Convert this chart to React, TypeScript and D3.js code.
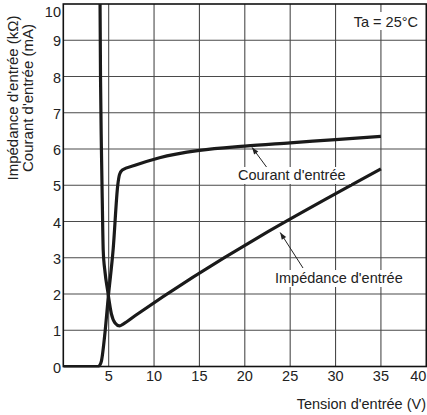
import React, { useEffect, useRef } from "react";
import * as d3 from "d3";

// Input voltage (V) vs. input current (mA)
const currentV = [0, 3.8, 4.0, 4.2, 4.6, 4.95, 5.5, 6.0, 6.2, 6.5, 7.9, 10.6, 15, 20, 25, 30, 35];
const currentMA = [0, 0, 0.03, 0.15, 0.95, 1.9, 3.25, 5.0, 5.3, 5.42, 5.55, 5.76, 5.96, 6.08, 6.17, 6.26, 6.35];

// Input voltage (V) vs. input impedance (kΩ)
const impedanceV = [4.05, 4.1, 4.2, 4.3, 4.4, 4.6, 4.88, 5.3, 5.7, 6.2, 6.6, 7.9, 35];
const impedanceK = [10, 8, 6, 4.5, 3.2, 2.6, 2.1, 1.45, 1.2, 1.12, 1.17, 1.4, 5.45];

const xTicks = [5, 10, 15, 20, 25, 30, 35, 40];
const yTicks = [0, 1, 2, 3, 4, 5, 6, 7, 8, 9, 10];

const FONT = "'Liberation Sans', Arial, Helvetica, sans-serif";

export default function App() {
  const ref = useRef<SVGSVGElement>(null);

  useEffect(() => {
    const svg = d3.select(ref.current);
    svg.selectAll("*").remove();

    const W = 427, H = 415;
    const left = 63.3, right = 426.3, top = 4, bottom = 366.5;

    const x = d3.scaleLinear().domain([0, 40]).range([left, right]);
    const y = d3.scaleLinear().domain([0, 10]).range([bottom, top]);

    svg.append("rect").attr("width", W).attr("height", H).attr("fill", "#fff");

    // grid
    const g = svg.append("g");
    g.selectAll(".vx").data(xTicks.filter(t => t < 40)).enter().append("line")
      .attr("x1", d => x(d)).attr("x2", d => x(d))
      .attr("y1", top).attr("y2", bottom)
      .attr("stroke", "#4a4a4a").attr("stroke-width", 1.1);
    g.selectAll(".hy").data(yTicks.filter(t => t > 0 && t < 10)).enter().append("line")
      .attr("x1", left).attr("x2", right)
      .attr("y1", d => y(d)).attr("y2", d => y(d))
      .attr("stroke", "#4a4a4a").attr("stroke-width", 1.1);

    // frame
    svg.append("rect")
      .attr("x", left).attr("y", top)
      .attr("width", right - left).attr("height", bottom - top)
      .attr("fill", "none").attr("stroke", "#111").attr("stroke-width", 1.6);

    // curves
    const line = d3.line<[number, number]>()
      .x(d => x(d[0])).y(d => y(d[1]))
      .curve(d3.curveMonotoneX);

    const curData: [number, number][] = currentV.map((v, i) => [v, currentMA[i]]);
    const impData: [number, number][] = impedanceV.map((v, i) => [v, impedanceK[i]]);

    const clip = svg.append("clipPath").attr("id", "plotclip");
    clip.append("rect").attr("x", left).attr("y", top - 1)
      .attr("width", right - left).attr("height", bottom - top + 2);

    const curves = svg.append("g").attr("clip-path", "url(#plotclip)");
    curves.append("path").attr("d", line(impData) || "")
      .attr("fill", "none").attr("stroke", "#1a1a1a").attr("stroke-width", 3.2)
      .attr("stroke-linejoin", "round");
    curves.append("path").attr("d", line(curData) || "")
      .attr("fill", "none").attr("stroke", "#1a1a1a").attr("stroke-width", 3.2)
      .attr("stroke-linejoin", "round");

    // tick labels
    svg.selectAll(".xl").data(xTicks).enter().append("text")
      .attr("x", d => (d === 40 ? right : x(d)))
      .attr("y", 381)
      .attr("text-anchor", d => (d === 40 ? "end" : "middle"))
      .attr("font-family", FONT).attr("font-size", 14.5).attr("fill", "#222")
      .text(d => d);
    svg.selectAll(".yl").data(yTicks).enter().append("text")
      .attr("x", 61)
      .attr("y", d => (d === 10 ? 16.5 : y(d) + 6))
      .attr("text-anchor", "end")
      .attr("font-family", FONT).attr("font-size", 14.5).attr("fill", "#222")
      .text(d => d);

    // axis titles
    svg.append("text")
      .attr("x", 426).attr("y", 409)
      .attr("text-anchor", "end")
      .attr("font-family", FONT).attr("font-size", 14.5).attr("fill", "#222")
      .text("Tension d'entrée (V)");

    const yt = svg.append("g").attr("transform", "translate(0,98) rotate(-90)");
    yt.append("text").attr("x", 0).attr("y", 18)
      .attr("text-anchor", "middle")
      .attr("font-family", FONT).attr("font-size", 15).attr("fill", "#222")
      .text("Impédance d'entrée (kΩ)");
    yt.append("text").attr("x", 0).attr("y", 33)
      .attr("text-anchor", "middle")
      .attr("font-family", FONT).attr("font-size", 15).attr("fill", "#222")
      .text("Courant d'entrée (mA)");

    // condition note
    svg.append("rect").attr("x", 348).attr("y", 12).attr("width", 72).attr("height", 18).attr("fill", "#fff");
    svg.append("text")
      .attr("x", 418).attr("y", 27)
      .attr("text-anchor", "end")
      .attr("font-family", FONT).attr("font-size", 14.5).attr("fill", "#222")
      .text("Ta = 25°C");

    // annotations with arrows
    const arrow = (x1: number, y1: number, x2: number, y2: number) => {
      svg.append("line").attr("x1", x1).attr("y1", y1).attr("x2", x2).attr("y2", y2)
        .attr("stroke", "#222").attr("stroke-width", 1);
      const ang = Math.atan2(y2 - y1, x2 - x1);
      const len = 7, half = 2.6;
      const bx = x2 - len * Math.cos(ang), by = y2 - len * Math.sin(ang);
      const px = -Math.sin(ang) * half, py = Math.cos(ang) * half;
      svg.append("path")
        .attr("d", `M${x2},${y2}L${bx + px},${by + py}L${bx - px},${by - py}Z`)
        .attr("fill", "#222");
    };

    const labelBg = (tx: number, ty: number, w: number) =>
      svg.append("rect").attr("x", tx - 2).attr("y", ty - 13).attr("width", w + 4).attr("height", 17).attr("fill", "#fff");

    labelBg(238, 180, 111);
    svg.append("text").attr("x", 238).attr("y", 180)
      .attr("font-family", FONT).attr("font-size", 14.5).attr("fill", "#222")
      .text("Courant d'entrée");
    arrow(266.5, 167, x(20.8), y(6.1) + 2);

    labelBg(275, 283, 132);
    svg.append("text").attr("x", 275).attr("y", 283)
      .attr("font-family", FONT).attr("font-size", 14.5).attr("fill", "#222")
      .text("Impédance d'entrée");
    arrow(303, 268, x(23.9), y(3.78) + 3);
  }, []);

  return (
    <svg ref={ref} width={427} height={415}
      style={{ position: "absolute", left: 0, top: 0, display: "block" }} />
  );
}
